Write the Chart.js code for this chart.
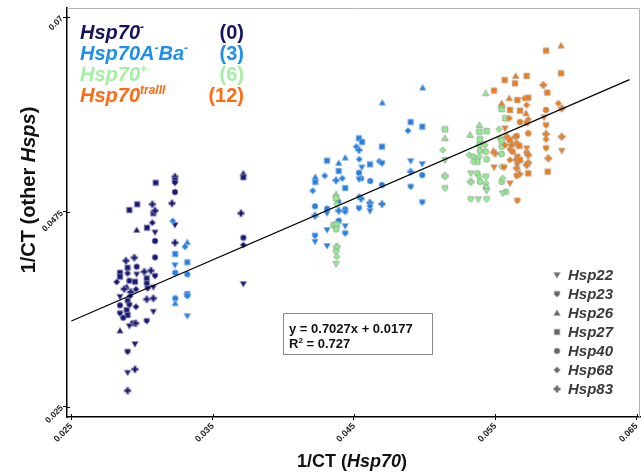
<!DOCTYPE html>
<html><head><meta charset="utf-8">
<script src="https://cdn.jsdelivr.net/npm/chart.js@4.4.1/dist/chart.umd.min.js"></script>
<style>html,body{margin:0;padding:0;background:#fff;}#wrap{width:642px;height:474px;}</style>
</head><body><div id="wrap"><canvas id="c" width="642" height="474"></canvas></div>
<script>
// ---------------- DATA ----------------
const xTickVals = [0.025, 0.035, 0.045, 0.055, 0.065];
const xTickLabels = ['0.025', '0.035', '0.045', '0.055', '0.065'];
const yTickVals = [0.025, 0.0475, 0.07];
const yTickLabels = ['0.025', '0.0475', '0.07'];

const groupNames = ['Hsp70-', 'Hsp70A-Ba-', 'Hsp70+', 'Hsp70traIII'];
const groupCounts = ['(0)', '(3)', '(6)', '(12)'];
const hspNames = ['Hsp22', 'Hsp23', 'Hsp26', 'Hsp27', 'Hsp40', 'Hsp68', 'Hsp83'];
const hspCodes = [22, 23, 26, 27, 40, 68, 83];

const trendX = [0.0250, 0.0645];
const trendY = [0.0349, 0.0628];
const equationText = 'y = 0.7027x + 0.0177';
const r2Text = '0.727';

// Hsp70- (navy)
const navyX = [0.03097,0.02910,0.02966,0.03073,0.03080,0.03092,0.02962,0.03035,0.03073,0.03092,0.03092,0.03092,0.03233,0.03233,0.03233,0.03233,0.03212,0.03233,0.03233,0.03717,0.03717,0.03700,0.03717,0.03717,0.03717,
0.02886,0.02945,0.02844,0.02898,0.02962,0.03016,0.03063,0.02898,0.02962,0.03033,0.03092,0.02844,0.02821,0.02910,0.02950,0.02891,0.02874,0.03033,0.03080,0.02957,0.03040,0.02920,0.02844,0.02915,0.02898,0.03033,0.03080,0.02844,0.02910,0.02957,0.02891,0.02844,0.02898,0.02867,0.03080,0.03033,0.02934,0.02955,0.02910,0.02844,0.02950,0.02898,0.02898,0.02950,0.02898];
const navyY = [0.05088,0.04773,0.04839,0.04839,0.04735,0.04765,0.04542,0.04568,0.04626,0.04515,0.04415,0.04226,0.05158,0.05120,0.05088,0.04981,0.04850,0.04600,0.04395,0.05197,0.05151,0.04735,0.04453,0.04369,0.03918,
0.04187,0.04222,0.04048,0.04106,0.04118,0.04060,0.04072,0.04041,0.04030,0.03984,0.04010,0.04002,0.03941,0.03956,0.03944,0.03887,0.03860,0.03926,0.03880,0.03857,0.03868,0.03825,0.03771,0.03779,0.03725,0.03741,0.03752,0.03672,0.03675,0.03655,0.03617,0.03579,0.03559,0.03528,0.03598,0.03490,0.03464,0.03464,0.03432,0.03378,0.03224,0.03135,0.02893,0.02932,0.02685];
const navyHsp = [27,27,27,83,27,83,26,27,68,22,40,40,83,27,23,40,83,22,83,26,27,83,40,68,22,
83,83,27,27,40,83,83,68,22,27,23,27,68,40,27,26,83,40,22,68,23,83,22,68,40,83,83,40,23,68,27,23,27,40,22,23,40,83,22,26,22,23,22,83,83];

// Hsp70A-Ba- (blue)
const blueX = [0.03217,0.03320,0.03304,0.03235,0.03233,0.03235,0.03320,0.03320,0.03320,0.03320,0.03235,0.03235,0.03320,
0.04700,0.04901,0.04983,0.04882,0.04986,0.04535,0.04557,0.04698,0.04516,0.04535,0.04438,0.04537,0.04309,0.04392,0.04555,0.04613,0.04679,0.04698,0.04901,0.04983,0.04392,0.04535,0.04293,0.04417,0.04373,0.04226,0.04226,0.04550,0.04535,0.04615,0.04901,0.04983,
0.04698,0.04901,0.04438,0.04208,0.04537,0.04550,0.04983,0.04698,0.04613,0.04613,0.04613,0.04535,0.04224,0.04309,0.04224,0.04309,0.04392,0.04438,0.04438,0.04389,0.04392,0.04438,0.04438,0.04309,0.04224,0.04224,0.04309];
const blueY = [0.04646,0.04400,0.04349,0.04264,0.04137,0.04048,0.04169,0.04030,0.03802,0.03779,0.03752,0.03695,0.03548,
0.06013,0.05790,0.05736,0.05689,0.06186,0.05602,0.05559,0.05505,0.05505,0.05466,0.05377,0.05359,0.05343,0.05316,0.05266,0.05301,0.05336,0.05313,0.05339,0.05305,0.05224,0.05204,0.05169,0.05139,0.05116,0.05097,0.05154,0.05139,0.05128,0.05108,0.05216,0.05177,
0.05062,0.05042,0.05027,0.04996,0.04927,0.04904,0.04862,0.04842,0.04857,0.04761,0.04819,0.04793,0.04816,0.04788,0.04707,0.04735,0.04765,0.04781,0.04753,0.04869,0.04649,0.04588,0.04504,0.04542,0.04476,0.04407,0.04357];
const blueHsp = [68,26,68,27,22,40,27,40,27,23,40,26,22,
26,27,27,68,26,27,27,27,68,83,26,68,27,26,22,27,68,23,22,22,27,40,68,68,83,27,26,40,22,40,83,40,
40,23,27,68,68,83,23,83,83,22,68,23,40,40,83,22,83,40,68,40,40,22,23,22,23,22,22];

// Hsp70+ (green)
const greenX = [0.04373,0.04373,0.04378,0.04354,0.04378,0.04373,0.04378,0.04373,0.04378,0.04373,
0.05144,0.05144,0.05128,0.05144,0.05144,0.05144,
0.05432,0.05545,0.05545,0.05571,0.05321,0.05387,0.05387,0.05439,0.05526,0.05392,0.05533,0.05545,0.05387,0.05427,0.05316,0.05344,0.05392,0.05432,0.05545,0.05387,0.05439,0.05373,0.05344,0.05545,
0.05326,0.05373,0.05387,0.05434,0.05326,0.05392,0.05434,0.05434,0.05439,0.05545,0.05552,0.05576,0.05552,0.05326,0.05380,0.05439,0.05545];
const greenY = [0.04954,0.04912,0.04839,0.04600,0.04608,0.04550,0.04349,0.04291,0.04233,0.04149,
0.05706,0.05602,0.05466,0.05351,0.05166,0.05024,
0.06122,0.05940,0.05986,0.05833,0.05640,0.05755,0.05678,0.05686,0.05706,0.05590,0.05602,0.05575,0.05524,0.05524,0.05409,0.05389,0.05458,0.05447,0.05505,0.05389,0.05359,0.05331,0.05331,0.05420,
0.05197,0.05197,0.05158,0.05158,0.05100,0.05100,0.05082,0.05035,0.04996,0.05100,0.05139,0.04984,0.04966,0.04897,0.04897,0.04897,0.05273];
const greenHsp = [26,27,68,40,27,40,83,23,68,22,
27,26,68,22,83,23,
26,27,26,27,26,26,27,27,68,27,68,27,40,68,68,40,40,40,40,68,40,27,68,40,
22,40,68,23,83,40,68,40,22,40,68,40,22,23,22,23,68];

// Hsp70traIII (orange)
const orangeX = [0.05965,0.05859,0.05644,0.05566,0.05639,0.05722,0.05965,0.05840,0.05491,0.05868,0.05599,0.05656,0.05705,0.05733,0.05545,0.05722,0.05946,0.05604,0.05675,0.05859,0.05717,0.05970,
0.05675,0.05733,0.05722,0.05845,0.05859,0.05599,0.05569,0.05733,0.05581,0.05639,0.05651,0.05859,0.05970,0.05859,0.05604,0.05569,0.05616,0.05651,0.05670,0.05722,0.05859,0.05970,0.05604,
0.05498,0.05486,0.05623,0.05722,0.05656,0.05733,0.05604,0.05651,0.05675,0.05733,0.05875,0.05491,0.05562,0.05656,0.05651,0.05722,0.05733,0.05871,0.05670,0.05651,0.05604,0.05656];
const orangeY = [0.06672,0.06614,0.06322,0.06275,0.06237,0.06322,0.06353,0.06218,0.06152,0.06129,0.06064,0.06044,0.06064,0.06071,0.06006,0.05986,0.06006,0.05929,0.05921,0.05929,0.05891,0.05948,
0.05790,0.05821,0.05782,0.05844,0.05752,0.05833,0.05717,0.05659,0.05620,0.05620,0.05628,0.05651,0.05620,0.05590,0.05582,0.05524,0.05524,0.05544,0.05513,0.05486,0.05486,0.05458,0.05474,
0.05428,0.05458,0.05447,0.05428,0.05389,0.05409,0.05351,0.05351,0.05351,0.05320,0.05370,0.05266,0.05266,0.05293,0.05255,0.05293,0.05197,0.05216,0.05189,0.05166,0.05082,0.04880];
const orangeHsp = [26,27,26,27,27,27,27,83,27,27,26,27,68,27,26,68,68,27,27,40,26,83,
40,68,40,22,23,68,22,40,83,68,40,83,83,68,27,68,83,83,27,22,23,22,68,
83,26,40,23,27,83,68,83,27,83,83,22,23,22,83,83,27,27,83,23,22,23];

// ---------------- STYLE ----------------
const FONT = '"Liberation Sans", Arial, Helvetica, sans-serif';
const groupFill = ['#17177a', '#1f80e6', '#8eee8e', '#f47b12'];
const groupStroke = ['rgba(150,150,175,0.9)', 'rgba(150,175,205,0.9)', 'rgba(150,150,150,0.9)', 'rgba(165,165,165,0.9)'];
const groupTextColor = ['#14145f', '#1d8ff0', '#a3f0a3', '#ff6b14'];

function shapePath(g, s) {
  g.beginPath();
  if (s === 22) { g.moveTo(-3.3,-2.4); g.lineTo(3.3,-2.4); g.lineTo(0,3.3); g.closePath(); }
  else if (s === 23) { g.moveTo(-2.8,-2.8); g.lineTo(2.8,-2.8); g.lineTo(2.8,0.5); g.lineTo(0,3.2); g.lineTo(-2.8,0.5); g.closePath(); }
  else if (s === 26) { g.moveTo(0,-3.3); g.lineTo(3.3,2.4); g.lineTo(-3.3,2.4); g.closePath(); }
  else if (s === 27) { g.rect(-2.8,-2.8,5.6,5.6); }
  else if (s === 40) { g.arc(0,0,3,0,Math.PI*2); }
  else if (s === 68) { g.moveTo(0,-3.3); g.lineTo(3.3,0); g.lineTo(0,3.3); g.lineTo(-3.3,0); g.closePath(); }
  else if (s === 83) {
    const a = 1.25, b = 3.3;
    g.moveTo(-a,-b); g.lineTo(a,-b); g.lineTo(a,-a); g.lineTo(b,-a); g.lineTo(b,a); g.lineTo(a,a);
    g.lineTo(a,b); g.lineTo(-a,b); g.lineTo(-a,a); g.lineTo(-b,a); g.lineTo(-b,-a); g.lineTo(-a,-a); g.closePath();
  }
}
const markerCache = {};
function marker(s, fill, stroke) {
  const key = s + fill + stroke;
  if (markerCache[key]) return markerCache[key];
  const c = document.createElement('canvas');
  c.width = 10; c.height = 10;
  const g = c.getContext('2d');
  g.translate(5, 5);
  shapePath(g, s);
  g.fillStyle = fill; g.fill();
  g.strokeStyle = stroke; g.lineWidth = 0.8; g.stroke();
  markerCache[key] = c;
  return c;
}

function makeSet(xs, ys, hs, gi) {
  return {
    label: groupNames[gi],
    data: xs.map((x, i) => ({ x: x, y: ys[i] })),
    pointStyle: ctx => marker(hs[ctx.dataIndex], groupFill[gi], groupStroke[gi]),
    pointRadius: 3,
    showLine: false
  };
}

// draw a run of mixed-style text; returns width
function runParts(ctx, parts, x, y, size, draw) {
  let cx = x;
  for (const [t, st] of parts) {
    let f, dy = 0;
    if (st === 'bi') f = 'italic bold ' + size + 'px ' + FONT;
    else if (st === 'b') f = 'bold ' + size + 'px ' + FONT;
    else if (st === 'sup') { f = 'italic bold ' + Math.round(size * 0.6) + 'px ' + FONT; dy = -size * 0.38; }
    else if (st === 'bsup') { f = 'bold ' + Math.round(size * 0.65) + 'px ' + FONT; dy = -size * 0.38; }
    ctx.font = f;
    if (draw) ctx.fillText(t, cx, y + dy);
    cx += ctx.measureText(t).width;
  }
  return cx - x;
}

const groupLabelParts = [
  [['Hsp70','bi'],['-','sup']],
  [['Hsp70A','bi'],['-','sup'],['Ba','bi'],['-','sup']],
  [['Hsp70','bi'],['+','sup']],
  [['Hsp70','bi'],['traIII','sup']]
];

const decor = {
  id: 'decor',
  beforeDatasetsDraw(chart) {
    const { ctx, chartArea: a, scales } = chart;
    ctx.save();
    ctx.strokeStyle = '#b4b4b4'; ctx.lineWidth = 1;
    ctx.beginPath();
    ctx.moveTo(a.left, a.top + 0.5); ctx.lineTo(a.right - 0.5, a.top + 0.5); ctx.lineTo(a.right - 0.5, a.bottom);
    ctx.stroke();
    // inner half of the crossing tick marks
    ctx.strokeStyle = '#000'; ctx.lineWidth = 1;
    ctx.beginPath();
    for (const t of scales.x.ticks) {
      const px = Math.round(scales.x.getPixelForValue(t.value)) + 0.5;
      ctx.moveTo(px, a.bottom); ctx.lineTo(px, a.bottom - 3);
    }
    for (const t of scales.y.ticks) {
      const py = Math.round(scales.y.getPixelForValue(t.value)) + 0.5;
      ctx.moveTo(a.left, py); ctx.lineTo(a.left + 3, py);
    }
    ctx.stroke();
    ctx.restore();
  },
  afterDraw(chart) {
    const { ctx } = chart;
    ctx.save();
    ctx.textBaseline = 'alphabetic';
    // group legend
    for (let i = 0; i < groupLabelParts.length; i++) {
      const by = 39 + i * 21;
      ctx.fillStyle = groupTextColor[i];
      ctx.textAlign = 'left';
      runParts(ctx, groupLabelParts[i], 80, by, 20, true);
      ctx.font = 'bold 20px ' + FONT;
      ctx.textAlign = 'right';
      ctx.fillText(groupCounts[i], 244, by);
    }
    // Hsp legend
    ctx.textAlign = 'left';
    ctx.textBaseline = 'middle';
    for (let i = 0; i < hspNames.length; i++) {
      const cy = 275 + i * 19;
      ctx.drawImage(marker(hspCodes[i], '#676767', 'rgba(170,170,170,0.9)'), 552, cy - 5);
      ctx.fillStyle = '#3a3a3a';
      ctx.font = 'italic bold 15px ' + FONT;
      ctx.fillText(hspNames[i], 568, cy + 0.5);
    }
    // equation box
    ctx.textBaseline = 'alphabetic';
    ctx.fillStyle = '#fff';
    ctx.fillRect(283.5, 313.5, 149, 41);
    ctx.strokeStyle = '#8a8a8a'; ctx.lineWidth = 1;
    ctx.strokeRect(283.5, 313.5, 149, 41);
    ctx.fillStyle = '#111';
    ctx.font = 'bold 13px ' + FONT;
    ctx.fillText(equationText, 289, 333);
    runParts(ctx, [['R','b'],['2','bsup'],[' = ' + r2Text,'b']], 289, 348, 13, true);
    // axis titles
    ctx.fillStyle = '#111';
    const xt = [['1/CT (','b'],['Hsp70','bi'],[')','b']];
    const wx = runParts(ctx, xt, 0, 0, 18, false);
    runParts(ctx, xt, 352 - wx / 2, 467, 18, true);
    const yt = [['1/CT (other ','b'],['Hsps','bi'],[')','b']];
    const wy = runParts(ctx, yt, 0, 0, 20, false);
    ctx.translate(35, 190);
    ctx.rotate(-Math.PI / 2);
    runParts(ctx, yt, -wy / 2, 0, 20, true);
    ctx.restore();
  }
};

new Chart(document.getElementById('c'), {
  type: 'scatter',
  data: {
    datasets: [
      { label: 'trend', data: trendX.map((x, i) => ({ x: x, y: trendY[i] })), showLine: true, borderColor: '#000', borderWidth: 1.2, pointRadius: 0, fill: false },
      makeSet(orangeX, orangeY, orangeHsp, 3),
      makeSet(greenX, greenY, greenHsp, 2),
      makeSet(blueX, blueY, blueHsp, 1),
      makeSet(navyX, navyY, navyHsp, 0)
    ]
  },
  options: {
    responsive: false,
    animation: false,
    layout: { autoPadding: false, padding: { top: 8, right: 2, left: 0, bottom: 0 } },
    plugins: { legend: { display: false }, tooltip: { enabled: false } },
    scales: {
      x: {
        type: 'linear', min: 0.02469, max: 0.06524,
        afterBuildTicks: s => { s.ticks = xTickVals.map(v => ({ value: v })); },
        afterFit: s => { s.height = 57; s.paddingLeft = 0; s.paddingRight = 0; },
        ticks: { callback: (v, i) => xTickLabels[i], minRotation: 45, maxRotation: 45, autoSkip: false, padding: 1, color: '#222', font: { family: FONT, size: 9, weight: 'bold' } },
        grid: { drawOnChartArea: false, drawTicks: true, tickLength: 3, color: '#000' },
        border: { color: '#000', width: 1.5 }
      },
      y: {
        type: 'linear', min: 0.023808, max: 0.071075,
        afterBuildTicks: s => { s.ticks = yTickVals.map(v => ({ value: v })); },
        afterFit: s => { s.width = 67; s.paddingTop = 0; s.paddingBottom = 0; },
        ticks: { callback: (v, i) => yTickLabels[i], minRotation: 45, maxRotation: 45, autoSkip: false, padding: 1, color: '#222', font: { family: FONT, size: 8.5, weight: 'bold' } },
        grid: { drawOnChartArea: false, drawTicks: true, tickLength: 4, color: '#000' },
        border: { color: '#000', width: 1.5 }
      }
    }
  },
  plugins: [decor]
});
</script></body></html>
